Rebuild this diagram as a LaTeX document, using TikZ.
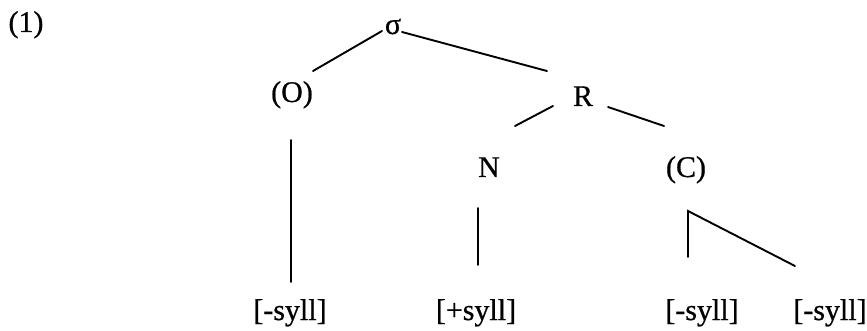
\documentclass[tikz,border=0pt]{standalone}
\usepackage{fontspec}
\setmainfont{Liberation Serif}
\newfontfamily\heavyserif[FakeBold=0.7]{Liberation Serif}
\usetikzlibrary{calc}
\begin{document}
\begin{tikzpicture}[x=1pt,y=-1pt,
  lbl/.style={anchor=base,inner sep=0pt,font=\heavyserif\fontsize{30}{36}\selectfont},
  edge/.style={line width=1.9pt,line cap=round,line join=miter}]
\useasboundingbox (0,0) rectangle (867,331);
\node[lbl] (ex) at (26,32) {(1)};
\node[lbl] (sigma) at (393,34) {σ};
\node[lbl] (O) at (292,102) {(O)};
\node[lbl] (R) at (583,106) {R};
\node[lbl] (N) at (489,177) {N};
\node[lbl] (C) at (686,177) {(C)};
\node[lbl] (s1) at (290,320) {[-syll]};
\node[lbl] (s2) at (476,320) {[+syll]};
\node[lbl] (s3) at (702,320) {[-syll]};
\node[lbl] (s4) at (830,320) {[-syll]};
\draw[edge] ($(sigma.base)+(-11,-3)$) -- ($(O.base)+(21,-31)$);
\draw[edge] ($(sigma.base)+(9,-2)$) -- ($(R.base)+(-36,-35)$);
\draw[edge] ($(R.base)+(-30,0)$) -- ($(N.base)+(26,-51)$);
\draw[edge] ($(R.base)+(25,1)$) -- ($(C.base)+(-22,-51)$);
\draw[edge] ($(O.base)+(-1,38)$) -- ($(s1.base)+(1,-38)$);
\draw[edge] ($(N.base)+(-11,31)$) -- ($(s2.base)+(2,-55)$);
\coordinate (Ccorner) at ($(C.base)+(2,34)$);
\draw[edge] ($(s3.base)+(-14,-63)$) -- (Ccorner) -- ($(s4.base)+(-35,-54)$);
\end{tikzpicture}
\end{document}
